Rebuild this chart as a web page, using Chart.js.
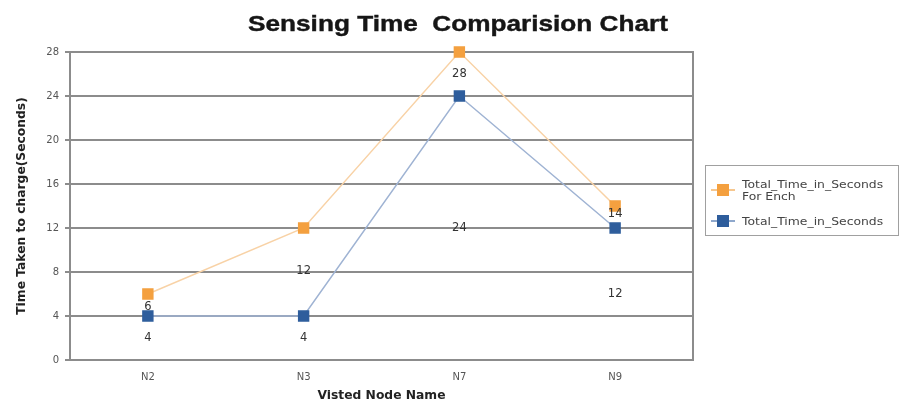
<!DOCTYPE html>
<html><head><meta charset="utf-8">
<script src="https://cdn.jsdelivr.net/npm/chart.js@4.4.1/dist/chart.umd.min.js"></script>
<style>
html,body{margin:0;padding:0;background:#fff;}
#wrap{position:relative;width:901px;height:407px;}
#legend{position:absolute;left:705px;top:165px;width:194px;height:71px;border:1px solid #a0a0a0;box-sizing:border-box;font-family:"DejaVu Sans",sans-serif;font-size:10.5px;color:#444;}
.item{position:absolute;left:5px;display:flex;align-items:center;}
.mk{position:relative;width:24px;height:12px;margin-right:7px;}
.mk .ln{position:absolute;left:0;right:0;top:5px;height:2px;}
.mk .sq{position:absolute;left:6px;top:0;width:12px;height:12px;}
.tx{transform:scaleX(1.18);transform-origin:left center;white-space:nowrap;}
</style></head>
<body><div id="wrap"><canvas id="c" width="901" height="407"></canvas>
<div id="legend">
 <div class="item" style="top:12px"><div class="mk"><div class="ln" style="background:#f6c78f"></div><div class="sq" style="background:#f4a03f"></div></div><div class="tx" style="line-height:12px">Total_Time_in_Seconds<br>For Ench</div></div>
 <div class="item" style="top:49px"><div class="mk"><div class="ln" style="background:#8fa8cc"></div><div class="sq" style="background:#2e5d9c"></div></div><div class="tx">Total_Time_in_Seconds</div></div>
</div></div>
<script>
const categories = ['N2','N3','N7','N9'];
const seriesNames = ['Total_Time_in_Seconds For Ench','Total_Time_in_Seconds'];
const forEachValues = [6, 12, 28, 14];
const totalValues = [4, 4, 24, 12];
const yTicks = [0,4,8,12,16,20,24,28];
const chartTitle = 'Sensing Time  Comparision Chart';
// where the reference places each value label (in axis units)
const forEachLabelAt = [4.8, 8.1, 26, 13.3];
const totalLabelAt = [2, 2, 12, 6];

const font = '"Liberation Sans", Arial, sans-serif';
const wideFont = '"DejaVu Sans", sans-serif';

const titlePlugin = {
  id:'wideTitle',
  afterDraw(chart){
    const ctx = chart.ctx;
    ctx.save();
    ctx.font = 'bold 22px ' + font;
    ctx.fillStyle = '#161616';
    ctx.strokeStyle = '#161616';
    ctx.lineWidth = 0.4;
    ctx.textAlign = 'center';
    ctx.textBaseline = 'middle';
    ctx.translate(458, 25);
    ctx.scale(1.19, 1);
    ctx.fillText(chartTitle, 0, 0);
    ctx.strokeText(chartTitle, 0, 0);
    ctx.restore();
  }
};
const labelPlugin = {
  id:'valLabels',
  afterDatasetsDraw(chart){
    const ctx = chart.ctx, x = chart.scales.x, y = chart.scales.y;
    ctx.save();
    ctx.font = '11.5px ' + wideFont;
    ctx.fillStyle = '#333';
    ctx.textAlign = 'center';
    ctx.textBaseline = 'middle';
    chart.data.datasets.forEach((ds) => {
      ds.data.forEach((v,i) => {
        ctx.fillText(String(v), x.getPixelForValue(i), y.getPixelForValue(ds.labelAt[i]));
      });
    });
    ctx.restore();
  }
};
const borderPlugin = {
  id:'areaBorder',
  beforeDatasetsDraw(chart){
    const a = chart.chartArea, ctx = chart.ctx;
    ctx.save();
    ctx.strokeStyle = '#8c8c8c';
    ctx.lineWidth = 2;
    ctx.strokeRect(a.left, a.top, a.right - a.left, a.bottom - a.top);
    ctx.restore();
  }
};

new Chart(document.getElementById('c'), {
  type:'line',
  data:{
    labels: categories,
    datasets:[
      {label:seriesNames[0], data:forEachValues, labelAt:forEachLabelAt, borderColor:'#f8d2a6', backgroundColor:'#f4a03f',
       pointBackgroundColor:'#f4a03f', pointBorderColor:'#f4a03f', borderWidth:1.5, pointStyle:'rect', pointRadius:7, tension:0, order:1, clip:false},
      {label:seriesNames[1], data:totalValues, labelAt:totalLabelAt, borderColor:'#9fb3d3', backgroundColor:'#2e5d9c',
       pointBackgroundColor:'#2e5d9c', pointBorderColor:'#2e5d9c', borderWidth:1.5, pointStyle:'rect', pointRadius:7, tension:0, order:0, clip:false}
    ]
  },
  options:{
    responsive:false, animation:false,
    layout:{padding:{left:10,right:208,top:52,bottom:0}},
    plugins:{
      legend:{display:false}, tooltip:{enabled:false}, title:{display:false}
    },
    scales:{
      x:{
        offset:true,
        grid:{display:false, drawTicks:false},
        border:{color:'#8c8c8c', width:2},
        ticks:{color:'#555', font:{family:wideFont,size:10}, padding:11},
        title:{display:true, text:'Visted Node Name', color:'#222', font:{family:wideFont,size:12.3,weight:'bold'}, padding:{top:4}},
        afterFit(s){ s.height = 47; }
      },
      y:{
        min:0, max:28,
        afterBuildTicks(s){ s.ticks = yTicks.map(v=>({value:v})); },
        grid:{color:'#8c8c8c', lineWidth:2, drawTicks:true, tickLength:5},
        border:{color:'#8c8c8c', width:2},
        ticks:{color:'#555', font:{family:wideFont,size:10}, padding:6},
        title:{display:true, text:'Time Taken to charge(Seconds)', color:'#222', font:{family:wideFont,size:12.3,weight:'bold'}, padding:{bottom:1}},
        afterFit(s){ s.width = 60; }
      }
    }
  },
  plugins:[borderPlugin, labelPlugin, titlePlugin]
});
</script></body></html>
